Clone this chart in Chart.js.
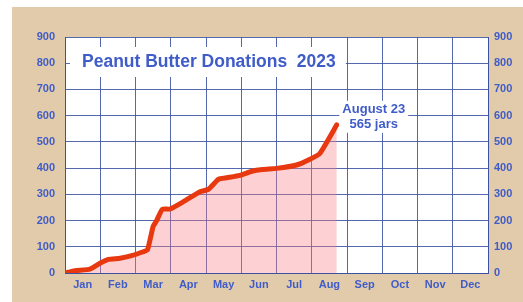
<!DOCTYPE html>
<html>
<head>
<meta charset="utf-8">
<script src="https://cdn.jsdelivr.net/npm/chart.js@4"></script>
<style>
  html, body { margin: 0; padding: 0; background: #fff; }
  #wrap { width: 523px; height: 302px; }
</style>
</head>
<body>
<div id="wrap"><canvas id="chart" width="523" height="302"></canvas></div>
<script>
// Datos (mes como fraccion del año, frascos acumulados)
const months = ['Jan', 'Feb', 'Mar', 'Apr', 'May', 'Jun', 'Jul', 'Aug', 'Sep', 'Oct', 'Nov', 'Dec'];
const xMonth = [0, 0.28, 0.71, 0.99, 1.23, 1.56, 1.89, 2.22, 2.34, 2.5, 2.6, 2.76, 2.98, 3.36, 3.83, 4.07, 4.35, 4.59, 4.96, 5.3, 5.6, 6.0, 6.57, 6.95, 7.23, 7.71];
const jars = [0, 9, 15, 37, 52, 56, 66, 81, 88, 177, 200, 243, 244, 272, 310, 319, 357, 363, 372, 388, 395, 399, 412, 434, 456, 565];
const yTicks = [0, 100, 200, 300, 400, 500, 600, 700, 800, 900];
const titleText = 'Peanut Butter Donations  2023';
const noteLines = ['August 23', '565 jars'];

const BLUE = '#3f5cc8';
const GRID = 'rgba(55,80,160,0.85)';
const FONT = '"Liberation Sans", Arial, sans-serif';

const puntos = xMonth.map((x, i) => ({ x: x, y: jars[i] }));

// fondo marron claro + area blanca
const fondoPlugin = {
    id: 'fondo',
    beforeDraw(chart) {
        const ctx = chart.ctx;
        const a = chart.chartArea;
        ctx.save();
        ctx.fillStyle = '#ffffff';
        ctx.fillRect(0, 0, chart.width, chart.height);
        ctx.fillStyle = '#e2cbab';
        ctx.fillRect(12, 7, chart.width - 12, chart.height - 7);
        ctx.fillStyle = '#ffffff';
        ctx.fillRect(a.left, a.top, a.right - a.left, a.bottom - a.top);
        ctx.restore();
    }
};

// titulo y nota con caja blanca encima de la rejilla
const textosPlugin = {
    id: 'textos',
    afterDraw(chart) {
        const ctx = chart.ctx;
        const a = chart.chartArea;
        ctx.save();
        // titulo
        ctx.font = 'bold 17.5px ' + FONT;
        const tw = ctx.measureText(titleText).width;
        const tx = a.left + 17, ty = a.top + 25;
        ctx.fillStyle = '#ffffff';
        ctx.fillRect(tx - 12, ty - 15, tw + 22, 30);
        ctx.fillStyle = BLUE;
        ctx.textBaseline = 'middle';
        ctx.textAlign = 'left';
        ctx.fillText(titleText, tx, ty);

        // nota agosto
        const xs = chart.scales.x, ys = chart.scales.y;
        const nx = xs.getPixelForValue(7.71) + 37;
        const ny = ys.getPixelForValue(630) + 2;
        ctx.font = 'bold 13px ' + FONT;
        const nw = Math.max(...noteLines.map(l => ctx.measureText(l).width));
        ctx.fillStyle = '#ffffff';
        ctx.fillRect(nx - nw / 2 - 3, ny - 9, nw + 6, 32);
        ctx.fillStyle = BLUE;
        ctx.textAlign = 'center';
        noteLines.forEach((l, i) => ctx.fillText(l, nx, ny + i * 15));
        ctx.restore();
    }
};

const tickFont = { family: FONT, size: 11, weight: 'bold' };

new Chart(document.getElementById('chart'), {
    type: 'line',
    data: {
        datasets: [{
            data: puntos,
            borderColor: '#e8380f',
            backgroundColor: 'rgba(250,120,130,0.35)',
            borderWidth: 5,
            borderCapStyle: 'round',
            borderJoinStyle: 'round',
            fill: 'origin',
            tension: 0.15,
            pointRadius: 0,
            yAxisID: 'y'
        }]
    },
    options: {
        responsive: false,
        animation: false,
        layout: { padding: { top: 37, left: 0, right: 0, bottom: 0 } },
        plugins: { legend: { display: false }, tooltip: { enabled: false } },
        scales: {
            x: {
                type: 'linear',
                min: 0,
                max: 12,
                afterFit(s) { s.height = 29; },
                afterBuildTicks(s) {
                    const t = [];
                    for (let v = 0; v <= 24; v++) t.push({ value: v / 2 });
                    s.ticks = t;
                },
                ticks: {
                    autoSkip: false,
                    maxRotation: 0,
                    padding: 5,
                    color: BLUE,
                    font: tickFont,
                    callback: v => (v % 1 === 0.5 ? months[Math.floor(v)] : '')
                },
                grid: {
                    drawTicks: false,
                    color: c => (c.tick && c.tick.value % 1 === 0 ? GRID : 'rgba(0,0,0,0)'),
                    lineWidth: 1
                },
                border: { color: GRID, width: 1 }
            },
            y: {
                position: 'left',
                min: 0,
                max: 900,
                afterFit(s) { s.width = 65; },
                afterBuildTicks(s) { s.ticks = yTicks.map(v => ({ value: v })); },
                ticks: { padding: 10, color: BLUE, font: tickFont },
                grid: { drawTicks: false, color: GRID, lineWidth: 1 },
                border: { color: GRID, width: 1 }
            },
            y2: {
                position: 'right',
                min: 0,
                max: 900,
                afterFit(s) { s.width = 35; },
                afterBuildTicks(s) { s.ticks = yTicks.map(v => ({ value: v })); },
                ticks: { padding: 6, color: BLUE, font: tickFont },
                grid: { display: false, drawTicks: false },
                border: { color: GRID, width: 1 }
            }
        }
    },
    plugins: [fondoPlugin, textosPlugin]
});
</script>
</body>
</html>
